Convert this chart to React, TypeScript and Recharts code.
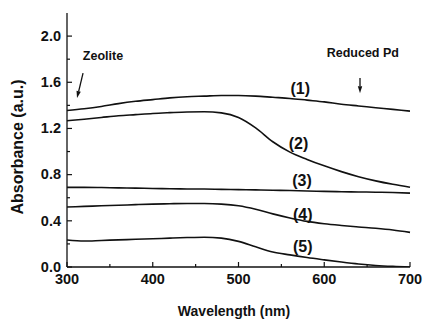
import React from "react";
import {
  LineChart,
  Line,
  XAxis,
  YAxis,
  ReferenceDot,
  ReferenceLine,
} from "recharts";

const wavelengths = [
  300, 320, 340, 360, 380, 400, 420, 440, 460, 480, 500, 520, 540, 560, 580,
  600, 620, 640, 660, 680, 700,
];
const sample1 = [
  1.355, 1.37, 1.39, 1.415, 1.435, 1.45, 1.465, 1.475, 1.48, 1.485, 1.485,
  1.48, 1.47, 1.46, 1.445, 1.43, 1.41, 1.395, 1.38, 1.365, 1.35,
];
const sample2 = [
  1.267, 1.28, 1.295, 1.31, 1.32, 1.33, 1.337, 1.343, 1.345, 1.335, 1.295,
  1.205, 1.085, 0.995, 0.932, 0.876, 0.826, 0.782, 0.746, 0.716, 0.69,
];
const sample3 = [
  0.69, 0.69, 0.688, 0.685, 0.683, 0.68, 0.678, 0.676, 0.675, 0.672, 0.67,
  0.668, 0.665, 0.662, 0.658, 0.655, 0.652, 0.65, 0.648, 0.645, 0.64,
];
const sample4 = [
  0.52, 0.525, 0.53, 0.535, 0.54, 0.545, 0.548, 0.55, 0.55, 0.545, 0.53, 0.5,
  0.46, 0.425, 0.395, 0.375, 0.36, 0.347, 0.335, 0.32, 0.3,
];
const sample5 = [
  0.234, 0.225, 0.23, 0.235, 0.24, 0.245, 0.25, 0.255, 0.258, 0.25, 0.222,
  0.175, 0.13, 0.105, 0.082, 0.062, 0.043, 0.026, 0.013, 0.005, 0.0,
];

const xTicks = [300, 350, 400, 450, 500, 550, 600, 650, 700];
const xLabels = [300, 400, 500, 600, 700];
const yTicks = [0, 0.2, 0.4, 0.6, 0.8, 1.0, 1.2, 1.4, 1.6, 1.8, 2.0];
const yLabels = [0, 0.4, 0.8, 1.2, 1.6, 2.0];

const curveLabels = [
  { x: 572, y: 1.55, text: "(1)" },
  { x: 570, y: 1.07, text: "(2)" },
  { x: 574, y: 0.75, text: "(3)" },
  { x: 575, y: 0.46, text: "(4)" },
  { x: 575, y: 0.18, text: "(5)" },
];
const notes = [
  { x: 342, y: 1.835, text: "Zeolite" },
  { x: 645, y: 1.86, text: "Reduced Pd" },
];
const arrows = [
  { x1: 318.7, y1: 1.68, x2: 311.7, y2: 1.463 },
  { x1: 641.7, y1: 1.636, x2: 641.7, y2: 1.506 },
];

const data = wavelengths.map((w, i) => ({
  w,
  s1: sample1[i],
  s2: sample2[i],
  s3: sample3[i],
  s4: sample4[i],
  s5: sample5[i],
}));

const font = "'Liberation Sans', Arial, sans-serif";
const ink = "#111";

const XTick = (props: any) => {
  const { x, y, payload } = props;
  const major = xLabels.includes(payload.value);
  return (
    <g>
      <line x1={x} x2={x} y1={y} y2={y - (major ? 5 : 3)} stroke={ink} strokeWidth={1.2} />
      {major && (
        <text x={x} y={y + 16.5} textAnchor="middle" fontFamily={font} fontWeight="bold" fontSize={14.5} fill={ink}>
          {payload.value}
        </text>
      )}
    </g>
  );
};

const YTick = (props: any) => {
  const { x, y, payload } = props;
  const v = Math.round(payload.value * 10) / 10;
  const major = yLabels.some((l) => Math.abs(l - v) < 1e-6);
  return (
    <g>
      <line x1={x} x2={x + (major ? 5 : 3)} y1={y} y2={y} stroke={ink} strokeWidth={1.2} />
      {major && (
        <text x={x - 6} y={y} dy="0.33em" textAnchor="end" fontFamily={font} fontWeight="bold" fontSize={14.5} fill={ink}>
          {v.toFixed(1)}
        </text>
      )}
    </g>
  );
};

const Arrow = (props: any) => {
  const { x1, y1, x2, y2 } = props;
  const dx = x2 - x1;
  const dy = y2 - y1;
  const len = Math.sqrt(dx * dx + dy * dy) || 1;
  const ux = dx / len;
  const uy = dy / len;
  const bx = x2 - ux * 7;
  const by = y2 - uy * 7;
  const pts = `${x2},${y2} ${bx - uy * 2.2},${by + ux * 2.2} ${bx + uy * 2.2},${by - ux * 2.2}`;
  return (
    <g>
      <line x1={x1} y1={y1} x2={bx} y2={by} stroke={ink} strokeWidth={1.3} />
      <polygon points={pts} fill={ink} />
    </g>
  );
};

const series = ["s1", "s2", "s3", "s4", "s5"];

export default function App() {
  return (
    <div style={{ position: "absolute", left: 0, top: 0, background: "#fff" }}>
      <LineChart
        width={428}
        height={328}
        data={data}
        margin={{ top: 13, right: 18, bottom: 21, left: 0 }}
      >
        <XAxis
          dataKey="w"
          type="number"
          domain={[300, 700]}
          ticks={xTicks}
          interval={0}
          tickLine={false}
          tickSize={0}
          tickMargin={0}
          tick={<XTick />}
          height={40}
          axisLine={{ stroke: ink, strokeWidth: 1.3 }}
          label={{
            content: () => (
              <text x={234} y={316} textAnchor="middle" fontFamily={font} fontWeight="bold" fontSize={14} fill={ink}>
                Wavelength (nm)
              </text>
            ),
          }}
        />
        <XAxis
          xAxisId="top"
          orientation="top"
          type="number"
          domain={[300, 700]}
          height={0}
          tick={false}
          tickLine={false}
          axisLine={{ stroke: ink, strokeWidth: 1.3 }}
        />
        <YAxis
          type="number"
          domain={[0, 2.2]}
          ticks={yTicks}
          interval={0}
          allowDataOverflow
          tickLine={false}
          tickSize={0}
          tickMargin={0}
          tick={<YTick />}
          width={67}
          axisLine={{ stroke: ink, strokeWidth: 1.3 }}
          label={{
            content: () => (
              <text
                x={17}
                y={147}
                transform="rotate(-90 17 147)"
                textAnchor="middle"
                dominantBaseline="central"
                fontFamily={font}
                fontWeight="bold"
                fontSize={16}
                fill={ink}
              >
                Absorbance (a.u.)
              </text>
            ),
          }}
        />
        <YAxis
          yAxisId="right"
          orientation="right"
          type="number"
          domain={[0, 2.2]}
          width={0}
          tick={false}
          tickLine={false}
          axisLine={{ stroke: ink, strokeWidth: 1.3 }}
        />
        {series.map((k) => (
          <Line
            key={k}
            dataKey={k}
            type="monotone"
            stroke={ink}
            strokeWidth={1.6}
            dot={false}
            isAnimationActive={false}
          />
        ))}
        {curveLabels.map((c) => (
          <ReferenceDot
            key={c.text}
            x={c.x}
            y={c.y}
            r={0}
            shape={(p: any) => (
              <text x={p.cx} y={p.cy} dy="0.36em" textAnchor="middle" fontFamily={font} fontWeight="bold" fontSize={16} fill={ink}>
                {c.text}
              </text>
            )}
          />
        ))}
        {notes.map((n) => (
          <ReferenceDot
            key={n.text}
            x={n.x}
            y={n.y}
            r={0}
            shape={(p: any) => (
              <text x={p.cx} y={p.cy} dy="0.36em" textAnchor="middle" fontFamily={font} fontWeight="bold" fontSize={12.5} fill={ink}>
                {n.text}
              </text>
            )}
          />
        ))}
        {arrows.map((a, i) => (
          <ReferenceLine
            key={i}
            segment={[
              { x: a.x1, y: a.y1 },
              { x: a.x2, y: a.y2 },
            ]}
            shape={<Arrow />}
          />
        ))}
      </LineChart>
    </div>
  );
}
